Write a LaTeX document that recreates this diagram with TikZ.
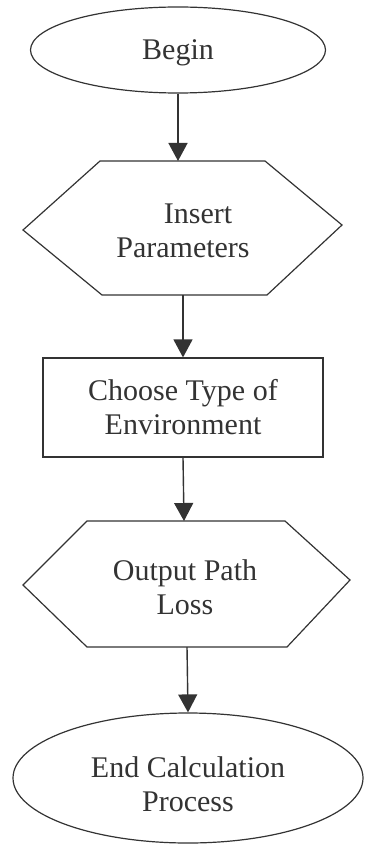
\documentclass[tikz,border=0pt]{standalone}
\usepackage{fontspec}
\setmainfont{Liberation Serif}
\usetikzlibrary{shapes.geometric,arrows.meta}
\begin{document}
\begin{tikzpicture}[x=1pt,y=-1pt,
  shp/.style={draw=black!80, line width=1.2pt},
  txt/.style={font=\fontsize{30}{34}\selectfont, align=center, text=black!80, inner sep=0pt},
  term/.style={shp, ellipse, inner sep=0pt},
  procbox/.style={shp, txt, rectangle, inner sep=0pt},
  arr/.style={draw=black!80, line width=1.4pt, -{Triangle[width=19pt,length=18pt]}}]
\useasboundingbox (0,0) rectangle (364,850);
% Begin
\node[term, minimum width=295pt, minimum height=86pt] (begin) at (178,50) {};
\node[txt] (begint) at (178,53) {Begin};
% Insert Parameters hexagon
\draw[shp] (23,230) -- (100,161) -- (265,161) -- (342,225) -- (267,295) -- (102,295) -- cycle;
\coordinate (hAtop) at (178,161);
\coordinate (hAbot) at (183,295);
\node[txt] (hA) at (183,231) {\hspace*{30pt}Insert\\Parameters};
% Choose box
\node[procbox, minimum width=280pt, minimum height=99pt] (choose) at (183,407.5) {Choose Type of\\Environment};
% Output Path Loss hexagon
\draw[shp] (23,585) -- (87,521) -- (285,521) -- (350,580) -- (287,647) -- (87,647) -- cycle;
\coordinate (hBtop) at (184,521);
\coordinate (hBbot) at (187,647);
\node[txt] (hB) at (185,587) {Output Path\\Loss};
% End
\node[term, minimum width=350pt, minimum height=130pt] (endc) at (188,778) {};
\node[txt] (endt) at (188,784) {End Calculation\\Process};
% connectors
\draw[arr] (begin.south) -- (hAtop);
\draw[arr] (hAbot) -- (choose.north);
\draw[arr] (choose.south) -- (hBtop);
\draw[arr] (hBbot) -- (endc.north);
\end{tikzpicture}
\end{document}
